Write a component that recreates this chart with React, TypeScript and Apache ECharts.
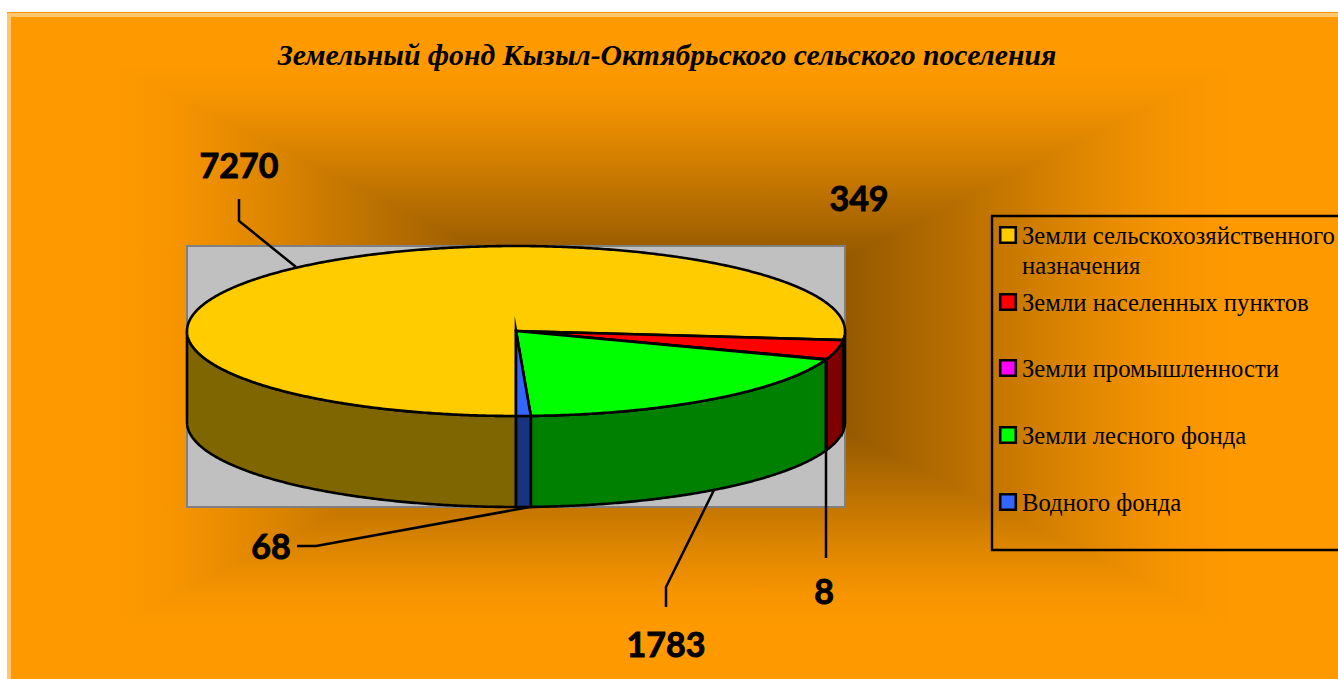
import React, { useEffect, useRef } from "react";
import * as echarts from "echarts";

const titleText = "Земельный фонд Кызыл-Октябрьского сельского поселения";
const categories = [
  "Земли сельскохозяйственного\nназначения",
  "Земли населенных пунктов",
  "Земли промышленности",
  "Земли лесного фонда",
  "Водного фонда",
];
const values = [7270, 349, 8, 1783, 68];
const topColors = ["#ffcc00", "#ff0000", "#ff00ff", "#00ff00", "#3366ff"];
const sideColors = ["#806600", "#800000", "#800080", "#008000", "#1a3380"];

const W = 1338;
const H = 679;
const PIE = { cx: 516, cy: 331, rx: 329, ry: 85, depth: 91, start: 180 };
const labelPos = [
  [239, 164],
  [859, 197],
  [824, 590],
  [666, 643],
  [271, 545],
];
const leaders: number[][][] = [
  [[239, 199], [239, 221], [296, 267]],
  [],
  [[826, 558], [826, 448]],
  [[666, 607], [666, 587], [714, 490]],
  [[297, 546], [316, 546], [530, 507]],
];
const legendRows = [227, 294, 360, 427, 494];

const total = values.reduce((a, b) => a + b, 0);
const pt = (deg: number, dy = 0) => {
  const r = (deg * Math.PI) / 180;
  return [PIE.cx + PIE.rx * Math.sin(r), PIE.cy - PIE.ry * Math.cos(r) + dy];
};
const arc = (a: number, b: number, dy = 0) => {
  const out: number[][] = [];
  const n = Math.max(2, Math.ceil((b - a) / 0.5));
  for (let i = 0; i <= n; i++) out.push(pt(a + ((b - a) * i) / n, dy));
  return out;
};

function renderItem(params: any) {
  const i = params.dataIndex;
  let before = 0;
  for (let k = 0; k < i; k++) before += values[k];
  const a = PIE.start + (before / total) * 360;
  const b = a + (values[i] / total) * 360;
  const children: any[] = [];
  const line = { stroke: "#000", lineWidth: 2.6, lineJoin: "miter", miterLimit: 12 };
  for (const [lo, hi] of [[90, 270], [450, 630]]) {
    const s = Math.max(a, lo);
    const e = Math.min(b, hi);
    if (e > s) {
      const front = arc(s, e);
      const back = arc(s, e, PIE.depth).reverse();
      children.push({
        type: "polygon",
        shape: { points: front.concat(back) },
        style: { fill: sideColors[i], ...line },
      });
    }
  }
  children.push({
    type: "polygon",
    shape: { points: [[PIE.cx, PIE.cy], ...arc(a, b)] },
    style: { fill: topColors[i], ...line },
  });
  return { type: "group", children };
}

function backgroundElements() {
  const cx = W / 2 + 3;
  const cy = 345;
  const stops = [
    { offset: 0, color: "#ff9900" },
    { offset: 0.16, color: "#fe9900" },
    { offset: 0.26, color: "#f69400" },
    { offset: 0.38, color: "#e08700" },
    { offset: 0.685, color: "#a06000" },
    { offset: 1, color: "#603a00" },
  ];
  const L = 7;
  const T = 12;
  const grad = (x: number, y: number, x2: number, y2: number) =>
    new echarts.graphic.LinearGradient(x, y, x2, y2, stops, true);
  return [
    {
      type: "polygon",
      shape: { points: [[L, T], [L + 8, T], [cx + 3, cy], [L + 8, H], [L, H]] },
      style: { fill: grad(L, 0, cx, 0) },
    },
    {
      type: "polygon",
      shape: { points: [[W, T], [W - 8, T], [cx - 3, cy], [W - 8, H], [W, H]] },
      style: { fill: grad(W, 0, cx, 0) },
    },
    { type: "polygon", shape: { points: [[L, T], [W, T], [cx, cy]] }, style: { fill: grad(0, T, 0, cy) } },
    { type: "polygon", shape: { points: [[L, H], [W, H], [cx, cy]] }, style: { fill: grad(0, H, 0, cy) } },
    { type: "rect", shape: { x: L, y: T, width: 4, height: H - T }, style: { fill: "#ffc670" } },
    { type: "rect", shape: { x: L, y: 13, width: W - L, height: 4 }, style: { fill: "#ffc670" } },
    { type: "rect", shape: { x: L, y: 12, width: W - L, height: 1 }, style: { fill: "#ff9900" } },
  ];
}

function staticElements() {
  const els: any[] = [];
  els.push({
    type: "rect",
    shape: { x: 187, y: 246, width: 658, height: 261 },
    style: { fill: "#c0c0c0", stroke: "#808080", lineWidth: 2 },
  });
  leaders.forEach((p) => {
    if (p.length)
      els.push({
        type: "polyline",
        shape: { points: p },
        style: { stroke: "#000", lineWidth: 2.5, fill: "none" },
      });
  });
  els.push({
    type: "rect",
    shape: { x: 992, y: 216, width: 360, height: 334 },
    style: { fill: "none", stroke: "#000", lineWidth: 2.4 },
  });
  categories.forEach((c, i) => {
    els.push({
      type: "rect",
      shape: { x: 1000.2, y: legendRows[i] + 0.2, width: 15.6, height: 15.6 },
      style: { fill: topColors[i], stroke: "#000", lineWidth: 2.6 },
    });
    c.split("\n").forEach((t, j) => {
      els.push({
        type: "text",
        style: {
          x: 1022,
          y: legendRows[i] + 21 + j * 30,
          text: t,
          fill: "#000",
          font: "24.7px 'Liberation Serif'",
          textAlign: "left",
          textVerticalAlign: "bottom",
        },
      });
    });
  });
  els.push({
    type: "text",
    style: {
      x: 667,
      y: 55,
      text: titleText,
      fill: "#000",
      font: "italic bold 29.7px 'Liberation Serif'",
      textAlign: "center",
      textVerticalAlign: "middle",
    },
  });
  values.forEach((v, i) => {
    els.push({
      type: "text",
      style: {
        x: labelPos[i][0],
        y: labelPos[i][1],
        text: String(v),
        fill: "#000",
        stroke: "#000",
        lineWidth: 0.9,
        font: "bold 34px Lato",
        textAlign: "center",
        textVerticalAlign: "middle",
      },
    });
  });
  return els;
}

export default function App() {
  const ref = useRef<HTMLDivElement>(null);
  useEffect(() => {
    const chart = echarts.init(ref.current!, null, { renderer: "svg" });
    chart.setOption({
      animation: false,
      backgroundColor: "#ffffff",
      graphic: [
        { type: "group", z: 0, silent: true, children: backgroundElements() },
        { type: "group", z: 1, silent: true, children: staticElements() },
      ],
      series: [
        {
          type: "custom",
          coordinateSystem: "none",
          silent: true,
          z: 5,
          data: values.map((v, i) => ({ name: categories[i], value: v })),
          renderItem,
        },
      ],
    });
    return () => chart.dispose();
  }, []);
  return (
    <div
      ref={ref}
      style={{ position: "fixed", left: 0, top: 0, width: W, height: H, overflow: "hidden" }}
    />
  );
}
